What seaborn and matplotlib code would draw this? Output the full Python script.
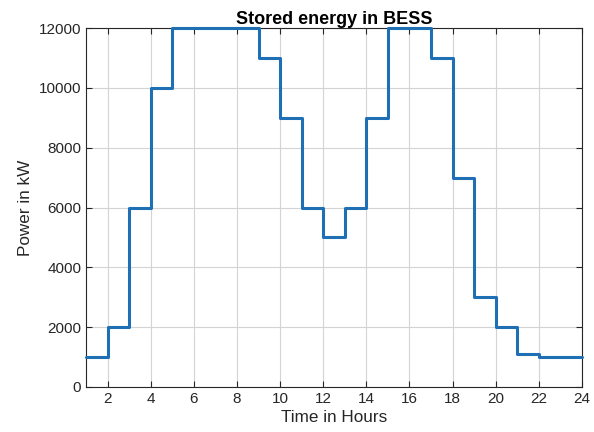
import matplotlib
matplotlib.use("Agg")
import matplotlib.pyplot as plt
import seaborn as sns
import pandas as pd

hours = list(range(1, 25))
energy = [1000, 2000, 6000, 10000, 12000, 12000, 12000, 12000, 11000, 9000, 6000,
          5000, 6000, 9000, 12000, 12000, 11000, 7000, 3000, 2000, 1100, 1000, 1000, 1000]
xticks = [2, 4, 6, 8, 10, 12, 14, 16, 18, 20, 22, 24]
yticks = [0, 2000, 4000, 6000, 8000, 10000, 12000]

sns.set_theme(style="white")
plt.rcParams['font.family'] = ['Liberation Sans', 'DejaVu Sans']

df = pd.DataFrame({"Hour": hours, "Energy": energy})
fig = plt.figure(figsize=(5.94, 4.32), dpi=100)
ax = fig.add_axes([0.1448, 0.1042, 0.8350, 0.8308])
sns.lineplot(data=df, x="Hour", y="Energy", ax=ax, drawstyle="steps-post",
             color="#1f6fb5", linewidth=2.2)
for ln in ax.lines:
    ln.set_clip_on(False)
    ln.set_zorder(3)
ax.set_xlim(1, 24)
ax.set_ylim(0, 12000)
ax.set_xticks(xticks)
ax.set_yticks(yticks)
ax.grid(True, color="#d4d4d4", linewidth=0.8)
ax.set_axisbelow(True)
for s in ax.spines.values():
    s.set_color("#262626")
    s.set_linewidth(0.8)
    s.set_visible(True)
    s.set_zorder(2)
ax.tick_params(direction="in", length=4, width=0.8, colors="#262626",
               labelsize=11, top=True, right=True, bottom=True, left=True,
               labeltop=False, labelright=False)
ax.set_xlabel("Time in Hours", fontsize=12.3, color="#262626", labelpad=3)
ax.set_ylabel("Power in kW", fontsize=12.3, color="#262626")
ax.set_title("Stored energy in BESS", fontsize=13, fontweight="bold", color="#000000", pad=3)
fig.savefig("out.png", dpi=100)
